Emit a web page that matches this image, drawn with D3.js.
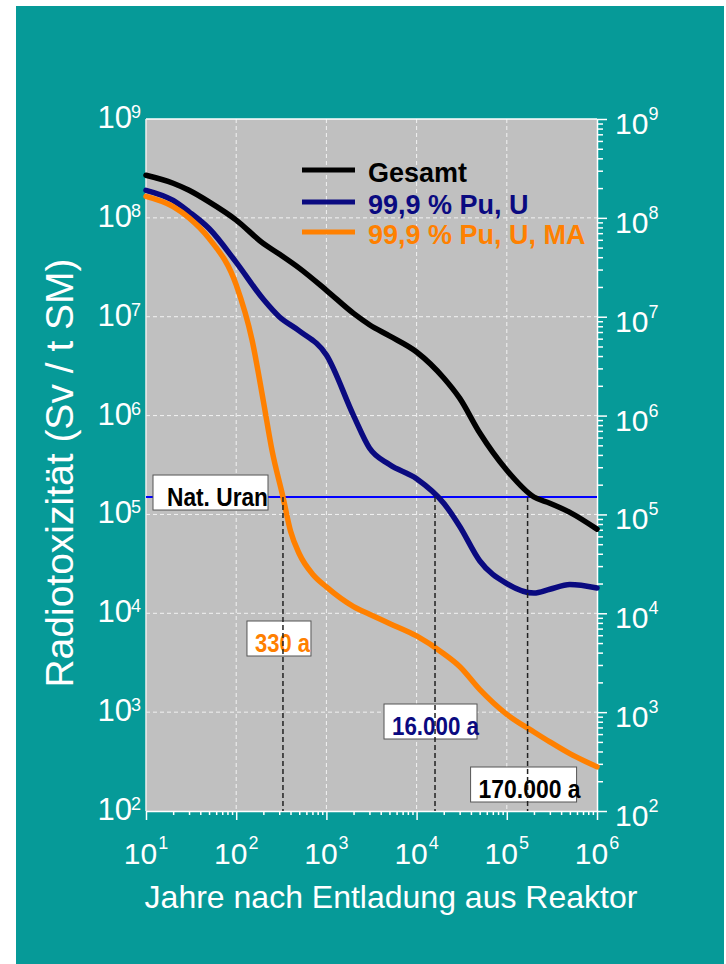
<!DOCTYPE html>
<html><head><meta charset="utf-8">
<script src="https://cdn.jsdelivr.net/npm/d3@7"></script>
<style>body{margin:0;background:#fff}svg{display:block}</style>
</head><body>
<svg id="c" width="726" height="964"></svg>
<script>
// ---------- data ----------
const years = [10,20,30,50,100,200,300,500,1000,2000,3000,5000,1e4,2e4,3e4,5e4,1e5,2e5,3e5,5e5,1e6];
const gesamt = [2.7e8,2.24e8,1.9e8,1.45e8,9.5e7,5.5e7,4.3e7,3.1e7,1.85e7,1.08e7,8.3e6,6.4e6,4.4e6,2.4e6,1.5e6,6.7e5,2.8e5,1.5e5,1.3e5,1.05e5,7.1e4];
const puU = [1.9e8,1.5e8,1.15e8,7.8e7,3.55e7,1.5e7,1.0e7,7.2e6,4.1e6,1.0e6,4.7e5,3.2e5,2.3e5,1.3e5,7.6e4,3.4e4,2.0e4,1.6e4,1.75e4,1.95e4,1.8e4];
const yearsMA = [10,20,30,50,100,150,200,250,330,400,500,700,1000,2000,3000,5000,1e4,2e4,3e4,5e4,1e5,2e5,3e5,5e5,1e6];
const puUMA = [1.65e8,1.3e8,1.0e8,6.2e7,2.1e7,5.8e6,1.4e6,4.4e5,1.5e5,6.8e4,4.0e4,2.5e4,1.85e4,1.17e4,9.8e3,7.9e3,5.9e3,3.9e3,2.9e3,1.7e3,9.5e2,6.3e2,5.0e2,3.8e2,2.8e2];
const seriesNames = ["Gesamt","99,9 % Pu, U","99,9 % Pu, U, MA"];
const natUran = 1.5e5;
const crossYears = [330, 16000, 170000];
const crossLabels = ["330 a", "16.000 a", "170.000 a"];
const xTickValues = [1e1,1e2,1e3,1e4,1e5,1e6];
const xTickExp = ["1","2","3","4","5","6"];
const yTickValues = [1e2,1e3,1e4,1e5,1e6,1e7,1e8,1e9];
const yTickExp = ["2","3","4","5","6","7","8","9"];

// ---------- setup ----------
const FONT = "'Liberation Sans', Arial, Helvetica, sans-serif";
const svg = d3.select("#c");
const L = 146, R = 597, T = 119, B = 811;
const x = d3.scaleLog().domain([10,1e6]).range([L,R]);
const y = d3.scaleLog().domain([1e2,1e9]).range([B,T]);

svg.append("rect").attr("x",16).attr("y",6).attr("width",708).attr("height",958).attr("fill","#069a98");
svg.append("rect").attr("x",L).attr("y",T).attr("width",R-L).attr("height",B-T).attr("fill","#c0c0c0");

// grid
const grid = svg.append("g").attr("stroke","#f2f2f2").attr("stroke-width",1).attr("stroke-dasharray","4,3");
grid.selectAll("line.v").data(xTickValues.slice(1,-1)).join("line")
  .attr("x1",d=>x(d)).attr("x2",d=>x(d)).attr("y1",T).attr("y2",B);
grid.selectAll("line.h").data(yTickValues.slice(1,-1)).join("line")
  .attr("y1",d=>y(d)).attr("y2",d=>y(d)).attr("x1",L).attr("x2",R);

// plot border top/left
svg.append("line").attr("x1",L).attr("x2",R).attr("y1",T).attr("y2",T).attr("stroke","#fff").attr("stroke-width",1.5);
svg.append("line").attr("x1",L).attr("x2",L).attr("y1",T).attr("y2",B).attr("stroke","#eee").attr("stroke-width",1.5);

// axes (ticks only)
const isMajor = v => Math.abs(Math.log10(v) - Math.round(Math.log10(v))) < 1e-6;
const yAx = svg.append("g").attr("transform",`translate(${R},0)`)
  .call(d3.axisRight(y).tickValues(y.ticks()).tickFormat("").tickSizeOuter(0));
yAx.selectAll(".tick line").attr("x2",d=>isMajor(d)?10:6);
const xAx = svg.append("g").attr("transform",`translate(0,${B})`)
  .call(d3.axisBottom(x).tickValues(x.ticks()).tickFormat("").tickSizeOuter(0));
xAx.selectAll(".tick line").attr("y2",d=>isMajor(d)?9:4);
[yAx,xAx].forEach(a=>{a.selectAll("path,line").attr("stroke","#fff").attr("stroke-width",1.5);});

// tick labels
const lbl = svg.append("g").attr("fill","#fff").style("font-family",FONT);
yTickValues.forEach((v,i)=>{
  const t = lbl.append("text").attr("x",141).attr("y",y(v)+9).attr("text-anchor","end").style("font-size","31px");
  t.append("tspan").text("10");
  t.append("tspan").attr("dx",-1).attr("dy",-10).style("font-size","18px").text(yTickExp[i]);
  const t2 = lbl.append("text").attr("x",615).attr("y",y(v)+15).attr("text-anchor","start").style("font-size","30px");
  t2.append("tspan").text("10");
  t2.append("tspan").attr("dx",0).attr("dy",-14).style("font-size","18px").text(yTickExp[i]);
});
xTickValues.forEach((v,i)=>{
  const t = lbl.append("text").attr("x",x(v)).attr("y",864).attr("text-anchor","middle").style("font-size","30px");
  t.append("tspan").text("10");
  t.append("tspan").attr("dx",1).attr("dy",-15).style("font-size","18px").text(xTickExp[i]);
});

// titles
svg.append("text").attr("transform","translate(73,473) rotate(-90)").attr("text-anchor","middle")
  .attr("fill","#fff").style("font-family",FONT).style("font-size","39px").text("Radiotoxizität (Sv / t SM)");
svg.append("text").attr("x",391).attr("y",908).attr("text-anchor","middle")
  .attr("fill","#fff").style("font-family",FONT).style("font-size","32px").text("Jahre nach Entladung aus Reaktor");

// curves
const colors = ["#000000","#0a0a80","#ff8000"];
const line = d3.line().x(d=>x(d[0])).y(d=>y(d[1])).curve(d3.curveMonotoneX);
const seriesData = [d3.zip(years,gesamt), d3.zip(years,puU), d3.zip(yearsMA,puUMA)];

// nat uran line
svg.append("line").attr("x1",L).attr("x2",R).attr("y1",y(natUran)).attr("y2",y(natUran))
  .attr("stroke","#0000ff").attr("stroke-width",2);

seriesData.forEach((d,i)=>{
  svg.append("path").attr("d",line(d)).attr("fill","none").attr("stroke",colors[i])
    .attr("stroke-width",5.5).attr("stroke-linejoin","round").attr("stroke-linecap","round");
});

// label boxes
function boxLabel(tx, baseline, text, color, size, tlen, padL, padR) {
  const g = svg.append("g");
  const r = g.append("rect");
  g.append("text").attr("x",tx).attr("y",baseline).attr("fill",color)
    .attr("textLength",tlen).attr("lengthAdjust","spacingAndGlyphs")
    .style("font-family",FONT).style("font-weight","bold").style("font-size",size+"px").text(text);
  r.attr("x",tx-padL).attr("y",baseline-31).attr("width",tlen+padL+padR).attr("height",35)
    .attr("fill","#fff").attr("stroke","#555").attr("stroke-width",1);
}
boxLabel(L+21, y(natUran)+9, "Nat. Uran", "#000", 25, 101, 14, 0);
const crossColors = ["#ff8000","#0a0a80","#000"];
const crossDx = [-28,-43,-49];
const crossBase = [652,735,798];
const crossLen = [55,87,102];
const crossPadR = [1,-2,-4];
crossYears.forEach((yr,i)=>boxLabel(x(yr)+crossDx[i], crossBase[i], crossLabels[i], crossColors[i], 25, crossLen[i], 8, crossPadR[i]));

// dashed verticals
svg.append("g").selectAll("line").data(crossYears).join("line")
  .attr("x1",d=>x(d)).attr("x2",d=>x(d)).attr("y1",y(natUran)).attr("y2",B)
  .attr("stroke","#222").attr("stroke-width",1.5).attr("stroke-dasharray","5,3");

// legend
const leg = svg.append("g");
[170,202,232].forEach((ly,i)=>{
  leg.append("line").attr("x1",302).attr("x2",355).attr("y1",ly).attr("y2",ly).attr("stroke",colors[i]).attr("stroke-width",5);
  leg.append("text").attr("x",368).attr("y",ly+12).attr("fill",colors[i])
    .style("font-family",FONT).style("font-weight","bold").style("font-size","27px").text(seriesNames[i]);
});
</script>
</body></html>
